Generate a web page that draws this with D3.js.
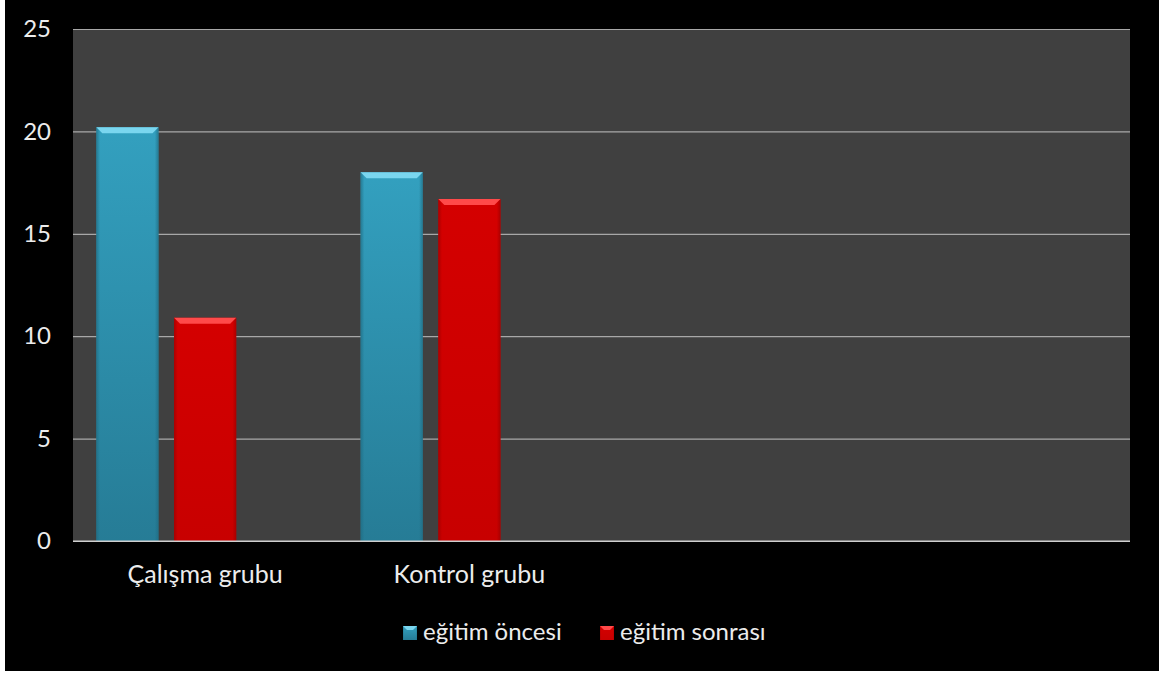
<!DOCTYPE html>
<html>
<head>
<meta charset="utf-8">
<script src="https://cdn.jsdelivr.net/npm/d3@7/dist/d3.min.js"></script>
<style>
  html, body { margin: 0; padding: 0; background: #ffffff; }
  svg { display: block; }
  text { font-family: Lato, "Open Sans", sans-serif; fill: #ececec; }
</style>
</head>
<body>
<svg id="chart" width="1167" height="677"></svg>
<script>
// ---- data ----
const categories = ["Çalışma grubu", "Kontrol grubu", "", ""];
const seriesNames = ["eğitim öncesi", "eğitim sonrası"];
const egitimOncesi = [20.2, 18.0];
const egitimSonrasi = [10.9, 16.7];
const yTicks = [0, 5, 10, 15, 20, 25];

const seriesValues = [egitimOncesi, egitimSonrasi];
const seriesColors = [
  { top: "#33a0bf", bottom: "#267c96", bevel: "#7ad6ef", edge: "#1f6a80" },
  { top: "#d40000", bottom: "#c80000", bevel: "#ff4a4a", edge: "#9a0000" }
];

const svg = d3.select("#chart");

// page background (black panel)
svg.append("rect").attr("x", 5).attr("y", 0).attr("width", 1154).attr("height", 671).attr("fill", "#000000");

const plot = { left: 73, right: 1130, top: 29, bottom: 541 };

const x0 = d3.scaleBand()
  .domain(d3.range(categories.length))
  .range([plot.left, plot.right])
  .padding(0);

// three slots per category (third slot is an empty series in the original)
const x1 = d3.scaleBand()
  .domain([0, 1, 2])
  .range([0, x0.bandwidth()])
  .paddingInner(0.2)
  .paddingOuter(0.3);

const y = d3.scaleLinear().domain([0, 25]).range([plot.bottom, plot.top]);

// gradients
const defs = svg.append("defs");
seriesColors.forEach((c, i) => {
  const g = defs.append("linearGradient").attr("id", "grad" + i)
    .attr("x1", 0).attr("y1", 0).attr("x2", 0).attr("y2", 1);
  g.append("stop").attr("offset", "0%").attr("stop-color", c.top);
  g.append("stop").attr("offset", "100%").attr("stop-color", c.bottom);
  const h = defs.append("linearGradient").attr("id", "hgrad" + i)
    .attr("x1", 0).attr("y1", 0).attr("x2", 1).attr("y2", 0);
  h.append("stop").attr("offset", "0%").attr("stop-color", c.edge).attr("stop-opacity", 0.7);
  h.append("stop").attr("offset", "6%").attr("stop-color", c.edge).attr("stop-opacity", 0);
  h.append("stop").attr("offset", "94%").attr("stop-color", c.edge).attr("stop-opacity", 0);
  h.append("stop").attr("offset", "100%").attr("stop-color", c.edge).attr("stop-opacity", 0.7);
});

// plot area
svg.append("rect")
  .attr("x", plot.left).attr("y", plot.top)
  .attr("width", plot.right - plot.left).attr("height", plot.bottom - plot.top)
  .attr("fill", "#404040");

// gridlines + y labels
const yAxis = d3.axisLeft(y).tickValues(yTicks).tickSize(-(plot.right - plot.left)).tickPadding(22);
const gy = svg.append("g").attr("transform", `translate(${plot.left},0)`).call(yAxis);
gy.select(".domain").remove();
gy.selectAll(".tick line").attr("stroke-width", 1.2)
  .attr("stroke", d => d === 0 ? "#cfcfcf" : "#a8a8a8");
gy.selectAll(".tick text").attr("font-size", 24).attr("fill", "#ececec").style("font-family", "Lato, sans-serif");

// bars
function bevelBar(g, x, yTop, w, h, i, bev) {
  const c = seriesColors[i];
  g.append("rect").attr("x", x).attr("y", yTop).attr("width", w).attr("height", h).attr("fill", `url(#grad${i})`);
  g.append("rect").attr("x", x).attr("y", yTop).attr("width", w).attr("height", h).attr("fill", `url(#hgrad${i})`);
  const b = Math.min(bev, h / 2);
  g.append("path")
    .attr("d", `M${x},${yTop} L${x + w},${yTop} L${x + w - b},${yTop + b} L${x + b},${yTop + b} Z`)
    .attr("fill", c.bevel);
}

const barsG = svg.append("g");
seriesValues.forEach((vals, si) => {
  vals.forEach((v, ci) => {
    const bx = x0(ci) + x1(si);
    const yt = y(v);
    bevelBar(barsG, bx, yt, x1.bandwidth(), y(0) - yt, si, 6);
  });
});

// zero axis line on top
svg.append("line").attr("x1", plot.left).attr("x2", plot.right)
  .attr("y1", y(0)).attr("y2", y(0)).attr("stroke", "#cfcfcf").attr("stroke-width", 1.2);

// x axis labels
const xAxis = d3.axisBottom(x0).tickFormat(i => categories[i]).tickSize(0).tickPadding(24);
const gx = svg.append("g").attr("transform", `translate(0,${plot.bottom})`).call(xAxis);
gx.select(".domain").remove();
gx.selectAll(".tick text").attr("font-size", 25).attr("fill", "#ececec").style("font-family", "Lato, sans-serif");

// legend
const legendG = svg.append("g");
const legendX = [403, 600];
seriesNames.forEach((name, i) => {
  bevelBar(legendG, legendX[i], 626, 14, 14, i, 4);
  legendG.append("text").attr("x", legendX[i] + 20).attr("y", 640)
    .attr("font-size", 24).text(name);
});
</script>
</body>
</html>
